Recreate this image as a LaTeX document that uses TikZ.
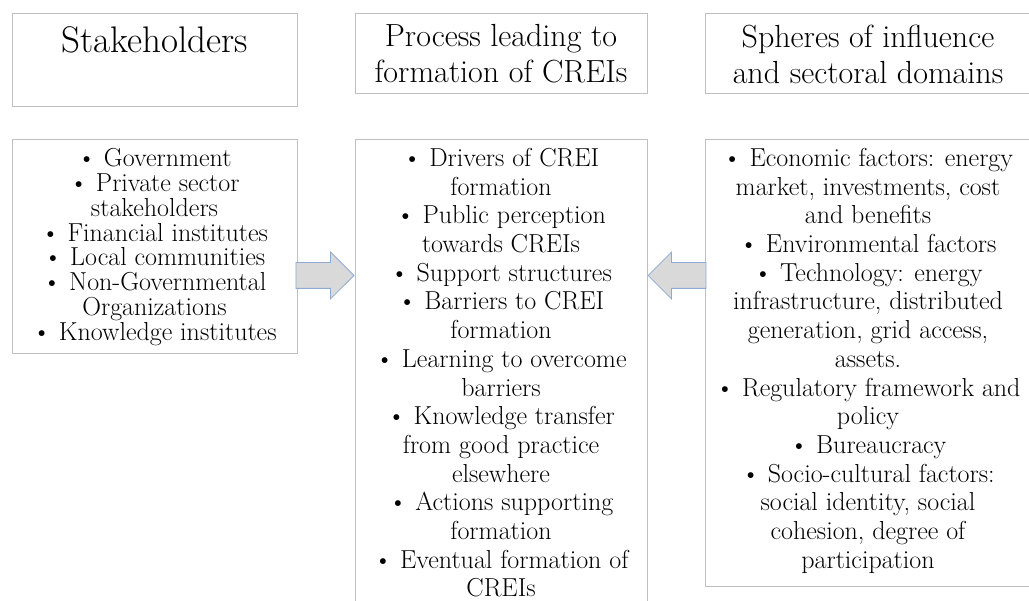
\documentclass[tikz,border=0pt]{standalone}
\usepackage{tikz}
\definecolor{boxgray}{RGB}{191,191,191}
\definecolor{arrowfill}{RGB}{217,217,217}
\definecolor{arrowedge}{RGB}{143,170,210}
\usetikzlibrary{shapes.arrows,positioning,calc}

\begin{document}
\begin{tikzpicture}[x=1pt, y=-1pt,
    box/.style={rectangle, draw=boxgray, line width=1pt, inner sep=0pt},
    head/.style={anchor=north, inner sep=0pt, align=center, font=\fontsize{32}{36}\selectfont},
    items/.style={anchor=north, inner sep=0pt, align=center, font=\fontsize{26}{28.7}\selectfont},
    blockarrow/.style={single arrow, draw=arrowedge, fill=arrowfill, line width=0.8pt,
                       text height=12.5pt, text depth=12.5pt, text width=0pt,
                       minimum width=46pt, minimum height=58pt, single arrow head extend=10.5pt,
                       single arrow tip angle=90, inner sep=0pt, anchor=tip}]
    \useasboundingbox (0,0) rectangle (1029,601);
    \clip (0,0) rectangle (1029,601);

    % Header boxes
    \node[box, minimum width=285pt, minimum height=93pt] (stakeHead) at (154.5,60.5) {};
    \node[box, minimum width=292pt, minimum height=80pt] (procHead) at (501,54) {};
    \node[box, minimum width=326pt, minimum height=80pt] (sphereHead) at (868,54) {};

    % List boxes
    \node[box, minimum width=285pt, minimum height=214pt] (stakeList) at (154.5,247) {};
    \node[box, minimum width=292pt, minimum height=470pt] (procList) at (501,375) {};
    \node[box, minimum width=326pt, minimum height=446pt] (sphereList) at (868,363) {};

    % Header texts
    \node[head, font=\fontsize{37}{42}\selectfont] (stakeTitle) at (154.5,26.3) {Stakeholders};
    \node[head] (procTitle) at (501,23.8) {Process leading to\\formation of CREIs};
    \node[head] (sphereTitle) at (868,24.8) {Spheres of influence\\and sectoral domains};

    % List contents
    \node[items, font=\fontsize{26}{24.9}\selectfont] (stakeItems) at (154.5,148)
        {\textbullet{} Government\\\textbullet{} Private sector\\stakeholders\\
         \textbullet{} Financial institutes\\\textbullet{} Local communities\\
         \textbullet{} Non-Governmental\\Organizations\\\textbullet{} Knowledge institutes};
    \node[items] (procItems) at (501,148)
        {\textbullet{} Drivers of CREI\\formation\\\textbullet{} Public perception\\towards CREIs\\
         \textbullet{} Support structures\\\textbullet{} Barriers to CREI\\formation\\
         \textbullet{} Learning to overcome\\barriers\\\textbullet{} Knowledge transfer\\
         from good practice\\elsewhere\\\textbullet{} Actions supporting\\formation\\
         \textbullet{} Eventual formation of\\CREIs};
    \node[items] (sphereItems) at (868,148)
        {\textbullet{} Economic factors: energy\\market, investments, cost\\and benefits\\
         \textbullet{} Environmental factors\\\textbullet{} Technology: energy\\
         infrastructure, distributed\\generation, grid access,\\assets.\\
         \textbullet{} Regulatory framework and\\policy\\\textbullet{} Bureaucracy\\
         \textbullet{} Socio-cultural factors:\\social identity, social\\
         cohesion, degree of\\participation};

    % Block arrows
    \node[blockarrow] (toProc) at ([yshift=-136pt]procList.north west) {};
    \node[blockarrow, shape border rotate=180] (fromSphere) at ([yshift=-136pt]procList.north east) {};
\end{tikzpicture}
\end{document}
